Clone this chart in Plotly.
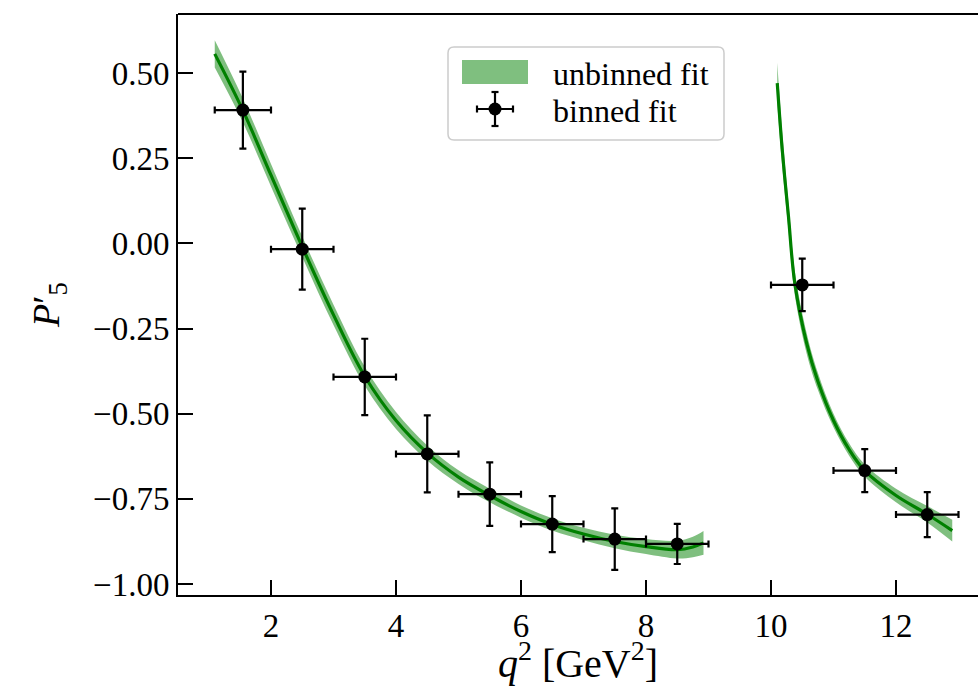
import plotly.graph_objects as go

# ---- binned fit results ----
bin_centers = [1.55, 2.5, 3.5, 4.5, 5.5, 6.5, 7.5, 8.5, 10.5, 11.5, 12.5]
bin_halfwidths = [0.45, 0.5, 0.5, 0.5, 0.5, 0.5, 0.5, 0.5, 0.5, 0.5, 0.5]
p5_binned = [0.391, -0.017, -0.392, -0.618, -0.736, -0.824, -0.868, -0.882, -0.122, -0.667, -0.796]
p5_binned_err = [0.113, 0.119, 0.112, 0.113, 0.093, 0.082, 0.090, 0.059, 0.077, 0.063, 0.066]

# ---- unbinned fit: low q2 branch ----
q2_low = [1.1, 1.55, 2.0, 2.5, 3.0, 3.5, 4.0, 4.5, 5.0, 5.5, 6.0, 6.5, 7.0, 7.5, 8.0, 8.5, 8.75, 8.92]
p5_low = [0.556, 0.39, 0.20, -0.01, -0.21, -0.39, -0.52, -0.615, -0.686, -0.74, -0.787, -0.825,
          -0.853, -0.875, -0.89, -0.899, -0.891, -0.879]
p5_low_unc = [0.04, 0.035, 0.033, 0.03, 0.03, 0.028, 0.025, 0.022, 0.02, 0.02, 0.018, 0.018,
              0.018, 0.02, 0.022, 0.026, 0.03, 0.035]

# ---- unbinned fit: high q2 branch ----
q2_high = [10.1, 10.18, 10.28, 10.38, 10.57, 10.75, 11.0, 11.25, 11.5, 12.0, 12.5, 12.9]
p5_high = [0.47, 0.274, 0.078, -0.116, -0.293, -0.405, -0.52, -0.605, -0.667, -0.74, -0.795, -0.843]
p5_high_unc = [0.06, 0.05, 0.04, 0.035, 0.03, 0.025, 0.02, 0.018, 0.018, 0.02, 0.024, 0.032]

x_ticks = [2, 4, 6, 8, 10, 12]
y_ticks = [-1.0, -0.75, -0.5, -0.25, 0.0, 0.25, 0.5]
legend_labels = ["unbinned fit", "binned fit"]

LINE_GREEN = "#008000"
BAND_GREEN = "rgba(0,128,0,0.5)"
PATCH_GREEN = "#7fbf7f"
FONT = "Liberation Serif"

# plot-area geometry in pixels (for paper-coordinate legend decorations)
W, H = 978, 686
L, R, T, B = 178, 0, 14, 91
PW, PH = W - L - R, H - T - B


def px(xp):
    return (xp - L) / PW


def py(yp):
    return (H - B - yp) / PH


fig = go.Figure()

for xs, ys, us in [(q2_low, p5_low, p5_low_unc), (q2_high, p5_high, p5_high_unc)]:
    upper = [y + u for y, u in zip(ys, us)]
    lower = [y - u for y, u in zip(ys, us)]
    fig.add_trace(go.Scatter(x=xs, y=upper, mode="lines", line=dict(width=0, shape="spline"),
                             showlegend=False, hoverinfo="skip"))
    fig.add_trace(go.Scatter(x=xs, y=lower, mode="lines", line=dict(width=0, shape="spline"),
                             fill="tonexty", fillcolor=BAND_GREEN, showlegend=False))
    fig.add_trace(go.Scatter(x=xs, y=ys, mode="lines",
                             line=dict(color=LINE_GREEN, width=3.2, shape="spline"),
                             showlegend=False))

fig.add_trace(go.Scatter(
    x=bin_centers, y=p5_binned, mode="markers", showlegend=False,
    marker=dict(color="black", size=13),
    error_x=dict(type="data", array=bin_halfwidths, color="black", thickness=2.2, width=3.5),
    error_y=dict(type="data", array=p5_binned_err, color="black", thickness=2.2, width=3.5),
))

# ---- legend (drawn manually to mimic the reference's patch + errorbar glyphs) ----
bx0, bx1, by0, by1, rad = 448, 724, 47, 140, 6
rx, ry = rad / PW, rad / PH
X0, X1, Y0, Y1 = px(bx0), px(bx1), py(by1), py(by0)
box_path = (f"M{X0 + rx},{Y0} L{X1 - rx},{Y0} Q{X1},{Y0} {X1},{Y0 + ry} "
            f"L{X1},{Y1 - ry} Q{X1},{Y1} {X1 - rx},{Y1} L{X0 + rx},{Y1} "
            f"Q{X0},{Y1} {X0},{Y1 - ry} L{X0},{Y0 + ry} Q{X0},{Y0} {X0 + rx},{Y0} Z")

shapes = [
    dict(type="line", xref="paper", yref="paper", x0=0, x1=1, y0=1, y1=1,
         line=dict(color="black", width=2)),
    dict(type="path", xref="paper", yref="paper", path=box_path,
         fillcolor="rgba(255,255,255,0.8)", line=dict(color="#cccccc", width=1.5)),
    dict(type="rect", xref="paper", yref="paper", x0=px(462), x1=px(528), y0=py(84), y1=py(60),
         fillcolor=PATCH_GREEN, line=dict(width=0)),
]
cx, cy = 495, 109
shapes += [
    dict(type="line", xref="paper", yref="paper", x0=px(cx - 18), x1=px(cx + 18), y0=py(cy), y1=py(cy),
         line=dict(color="black", width=2.2)),
    dict(type="line", xref="paper", yref="paper", x0=px(cx), x1=px(cx), y0=py(cy - 17), y1=py(cy + 17),
         line=dict(color="black", width=2.2)),
    dict(type="line", xref="paper", yref="paper", x0=px(cx - 18), x1=px(cx - 18), y0=py(cy - 3.5), y1=py(cy + 3.5),
         line=dict(color="black", width=2.2)),
    dict(type="line", xref="paper", yref="paper", x0=px(cx + 18), x1=px(cx + 18), y0=py(cy - 3.5), y1=py(cy + 3.5),
         line=dict(color="black", width=2.2)),
    dict(type="line", xref="paper", yref="paper", x0=px(cx - 3.5), x1=px(cx + 3.5), y0=py(cy - 17), y1=py(cy - 17),
         line=dict(color="black", width=2.2)),
    dict(type="line", xref="paper", yref="paper", x0=px(cx - 3.5), x1=px(cx + 3.5), y0=py(cy + 17), y1=py(cy + 17),
         line=dict(color="black", width=2.2)),
    dict(type="circle", xref="paper", yref="paper", x0=px(cx - 6.5), x1=px(cx + 6.5), y0=py(cy + 6.5), y1=py(cy - 6.5),
         fillcolor="black", line=dict(color="black", width=0)),
]

annotations = [
    dict(xref="paper", yref="paper", x=px(551), y=py(74), xanchor="left", yanchor="middle",
         text=legend_labels[0], showarrow=False, font=dict(family=FONT, size=32, color="black")),
    dict(xref="paper", yref="paper", x=px(551), y=py(111), xanchor="left", yanchor="middle",
         text=legend_labels[1], showarrow=False, font=dict(family=FONT, size=32, color="black")),
]

fig.update_layout(
    width=W, height=H,
    margin=dict(l=L, r=R, t=T, b=B, autoexpand=False),
    plot_bgcolor="white", paper_bgcolor="white",
    font=dict(family=FONT, size=33, color="black"),
    showlegend=False,
    shapes=shapes,
    annotations=annotations,
)

fig.update_xaxes(
    range=[0.512, 13.312], tickvals=x_ticks, ticks="inside", ticklen=15, tickwidth=1.7,
    tickcolor="black", showline=True, linewidth=2, linecolor="black", showgrid=False,
    zeroline=False, automargin=False,
    tickfont=dict(family=FONT, size=33, color="black"),
    title=dict(text="<i>q</i><sup>2</sup> [GeV<sup>2</sup>]", standoff=0,
               font=dict(family=FONT, size=40, color="black")),
)
fig.update_yaxes(
    range=[-1.032, 0.673], tickvals=y_ticks, tickformat=".2f", ticks="inside", ticklen=15,
    tickwidth=1.7, tickcolor="black", showline=True, linewidth=2, linecolor="black",
    showgrid=False, zeroline=False, automargin=False,
    tickfont=dict(family=FONT, size=33, color="black"),
    title=dict(text="<i>P</i>′<sub>5</sub>", standoff=22,
               font=dict(family=FONT, size=38, color="black")),
)

fig.write_html("out.html")
